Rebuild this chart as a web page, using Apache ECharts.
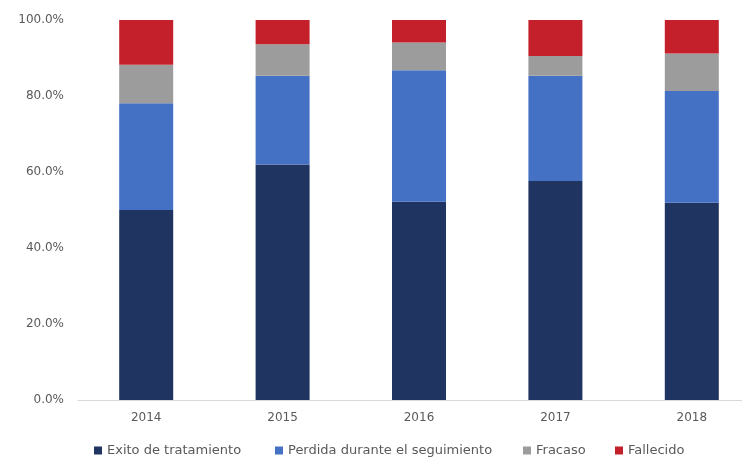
<!DOCTYPE html>
<html>
<head>
<meta charset="utf-8">
<script src="https://cdn.jsdelivr.net/npm/echarts@6/dist/echarts.min.js"></script>
<style>
  html, body { margin: 0; padding: 0; background: #fff; }
  #chart { width: 742px; height: 463px; }
</style>
</head>
<body>
<div id="chart"></div>
<script>
// años y porcentajes por resultado
var years = ['2014', '2015', '2016', '2017', '2018'];
var exito = [50.0, 62.0, 52.2, 57.6, 51.9];
var perdida = [28.1, 23.3, 34.6, 27.7, 29.4];
var fracaso = [10.1, 8.3, 7.3, 5.2, 9.9];
var fallecido = [11.8, 6.4, 5.9, 9.5, 8.8];
var yTicks = [0, 20, 40, 60, 80, 100];

var names = ['Exito de tratamiento', 'Perdida durante el seguimiento', 'Fracaso', 'Fallecido'];
var colors = ['#1f3461', '#4471c4', '#9c9c9c', '#c4202b'];
var values = [exito, perdida, fracaso, fallecido];
var legendLeft = [89, 270, 518, 610];

var myChart = echarts.init(document.getElementById('chart'));

var legends = names.map(function (n, i) {
    return {
        data: [n],
        left: legendLeft[i],
        top: 439,
        icon: 'rect',
        itemWidth: 8,
        itemHeight: 8,
        itemGap: 5,
        textStyle: { color: '#595959', fontSize: 13, fontFamily: 'DejaVu Sans' }
    };
});

option = {
    backgroundColor: '#fff',
    animation: false,
    color: colors,
    legend: legends,
    grid: {
        left: 78,
        width: 682,
        top: 20,
        bottom: 63,
        containLabel: false,
        outerBoundsMode: 'none'
    },
    xAxis: {
        type: 'category',
        data: years,
        axisTick: { show: false },
        axisLine: { lineStyle: { color: '#d9d9d9', width: 1 } },
        axisLabel: { color: '#595959', fontSize: 12, margin: 12, fontFamily: 'DejaVu Sans' }
    },
    yAxis: {
        type: 'value',
        min: yTicks[0],
        max: yTicks[yTicks.length - 1],
        interval: 20,
        splitLine: { show: false },
        axisLine: { show: false },
        axisTick: { show: false },
        axisLabel: {
            color: '#595959',
            fontSize: 12,
            margin: 14,
            fontFamily: 'DejaVu Sans',
            formatter: function (v) { return v.toFixed(1) + '%'; }
        }
    },
    series: names.map(function (n, i) {
        return {
            name: n,
            type: 'bar',
            stack: 'total',
            barWidth: 54,
            data: values[i],
            itemStyle: { color: colors[i] }
        };
    })
};

myChart.setOption(option);
</script>
</body>
</html>
